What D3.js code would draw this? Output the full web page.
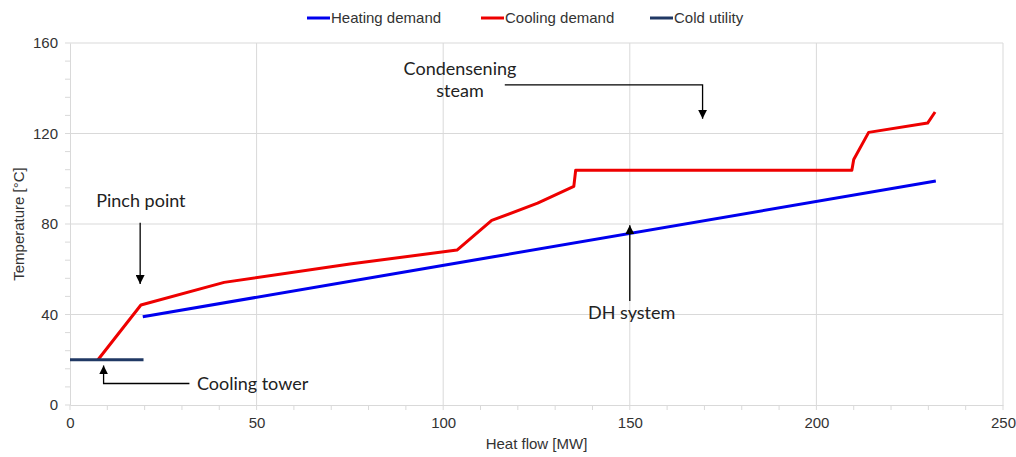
<!DOCTYPE html>
<html>
<head>
<meta charset="utf-8">
<script src="https://cdn.jsdelivr.net/npm/d3@7"></script>
<style>
  body { margin: 0; background: #fff; }
  .tick text { font-family: 'Liberation Sans Narrow', 'Liberation Sans', Arial, sans-serif; font-size: 15px; fill: #333; }
  .note { font-family: Lato, 'Open Sans', sans-serif; font-size: 18px; fill: #222; }
</style>
</head>
<body>
<script>
// Data
var heatX = [19.5, 232];
var heatY = [39, 99];
var coolX = [7.5, 19, 41.3, 75, 103.7, 113, 125.3, 135, 135.5, 209.5, 210, 214, 229.8, 231.8];
var coolY = [20, 44.2, 54.2, 62.3, 68.5, 81.6, 89.2, 96.6, 103.8, 103.8, 108.5, 120.5, 124.6, 129.5];
var coldX = [0, 19.7];
var coldY = [20, 20];
var xTicks = [0, 50, 100, 150, 200, 250];
var yTicks = [0, 40, 80, 120, 160];
var legendNames = ['Heating demand', 'Cooling demand', 'Cold utility'];
var colors = ['#0000ee', '#ee0000', '#203864'];

var margin = { top: 43, right: 13, bottom: 52, left: 70 };
var width = 1016 - margin.left - margin.right;
var height = 457 - margin.top - margin.bottom;

var svg = d3.select('body').append('svg')
    .attr('width', 1016)
    .attr('height', 457);
var g = svg.append('g')
    .attr('transform', 'translate(' + margin.left + ',' + margin.top + ')');

var x = d3.scaleLinear().domain([0, 250]).range([0, width]);
var y = d3.scaleLinear().domain([0, 160]).range([height, 0]);

// gridlines
g.selectAll('.vgrid').data(xTicks.slice(1))
  .enter().append('line')
    .attr('x1', function(d) { return x(d); }).attr('x2', function(d) { return x(d); })
    .attr('y1', 0).attr('y2', height)
    .attr('stroke', '#d9d9d9').attr('stroke-width', 1);
g.selectAll('.hgrid').data(yTicks.slice(1))
  .enter().append('line')
    .attr('x1', 0).attr('x2', width)
    .attr('y1', function(d) { return y(d); }).attr('y2', function(d) { return y(d); })
    .attr('stroke', '#d9d9d9').attr('stroke-width', 1);

// minor ticks
var xMinor = d3.range(0, 251, 10);
var yMinor = d3.range(0, 161, 8);

var xAxis = g.append('g')
    .attr('transform', 'translate(0,' + height + ')')
    .call(d3.axisBottom(x).tickValues(xTicks).tickSize(0).tickPadding(12));
xAxis.select('.domain').attr('stroke', '#d9d9d9');
xAxis.selectAll('.minor').data(xMinor).enter().append('line')
    .attr('x1', function(d) { return x(d); }).attr('x2', function(d) { return x(d); })
    .attr('y1', 0).attr('y2', 5).attr('stroke', '#d9d9d9');

var yAxis = g.append('g')
    .call(d3.axisLeft(y).tickValues(yTicks).tickSize(0).tickPadding(12));
yAxis.select('.domain').attr('stroke', '#d9d9d9');
yAxis.selectAll('.minor').data(yMinor).enter().append('line')
    .attr('x1', -5).attr('x2', 0)
    .attr('y1', function(d) { return y(d); }).attr('y2', function(d) { return y(d); })
    .attr('stroke', '#d9d9d9');

// axis titles
svg.append('text')
    .attr('x', margin.left + x(125)).attr('y', 449)
    .attr('text-anchor', 'middle')
    .style('font-family', "'Liberation Sans Narrow', 'Liberation Sans', Arial, sans-serif")
    .style('font-size', '15px').attr('fill', '#333')
    .text('Heat flow [MW]');
svg.append('text')
    .attr('transform', 'translate(24,' + (margin.top + y(80)) + ') rotate(-90)')
    .attr('text-anchor', 'middle')
    .style('font-family', "'Liberation Sans Narrow', 'Liberation Sans', Arial, sans-serif")
    .style('font-size', '15px').attr('fill', '#333')
    .text('Temperature [°C]');

// series
var line = d3.line()
    .x(function(d) { return x(d[0]); })
    .y(function(d) { return y(d[1]); });
var series = [d3.zip(heatX, heatY), d3.zip(coolX, coolY), d3.zip(coldX, coldY)];
g.selectAll('.series').data(series)
  .enter().append('path')
    .attr('d', line)
    .attr('fill', 'none')
    .attr('stroke', function(d, i) { return colors[i]; })
    .attr('stroke-width', 3)
    .attr('stroke-linejoin', 'round');

// legend
var legendX = [307, 481, 650];
var legend = svg.selectAll('.legend').data(legendNames)
  .enter().append('g')
    .attr('transform', function(d, i) { return 'translate(' + legendX[i] + ',18)'; });
legend.append('line')
    .attr('x1', 0).attr('x2', 23).attr('y1', 0).attr('y2', 0)
    .attr('stroke', function(d, i) { return colors[i]; })
    .attr('stroke-width', 3);
legend.append('text')
    .attr('x', 24).attr('y', 5)
    .style('font-family', "'Liberation Sans Narrow', 'Liberation Sans', Arial, sans-serif")
    .style('font-size', '15px').attr('fill', '#333')
    .text(function(d) { return d; });

// arrows / annotations
svg.append('defs').append('marker')
    .attr('id', 'head')
    .attr('viewBox', '0 0 10 10')
    .attr('refX', 10).attr('refY', 5)
    .attr('markerWidth', 9).attr('markerHeight', 9)
    .attr('markerUnits', 'userSpaceOnUse')
    .attr('orient', 'auto')
  .append('path')
    .attr('d', 'M0,0L10,5L0,10z')
    .attr('fill', '#000');

function arrow(pts) {
  g.append('path')
    .attr('d', d3.line()(pts.map(function(p) { return [x(p[0]), y(p[1])]; })))
    .attr('fill', 'none')
    .attr('stroke', '#000')
    .attr('stroke-width', 1.3)
    .attr('marker-end', 'url(#head)');
}
function note(tx, ty, txt, anchor) {
  g.append('text').attr('class', 'note')
    .attr('x', x(tx)).attr('y', y(ty))
    .attr('text-anchor', anchor || 'middle')
    .text(txt);
}

arrow([[18.8, 80.5], [18.8, 53.5]]);
note(19, 87.5, 'Pinch point');

arrow([[32, 9.5], [9, 9.5], [9, 17.5]]);
note(34, 6.5, 'Cooling tower', 'start');

arrow([[116.5, 141.5], [169.5, 141.5], [169.5, 126.5]]);
note(104.5, 146, 'Condensening');
note(104.5, 136, 'steam');

arrow([[150, 46], [150, 79.5]]);
note(150.5, 38, 'DH system');
</script>
</body>
</html>
